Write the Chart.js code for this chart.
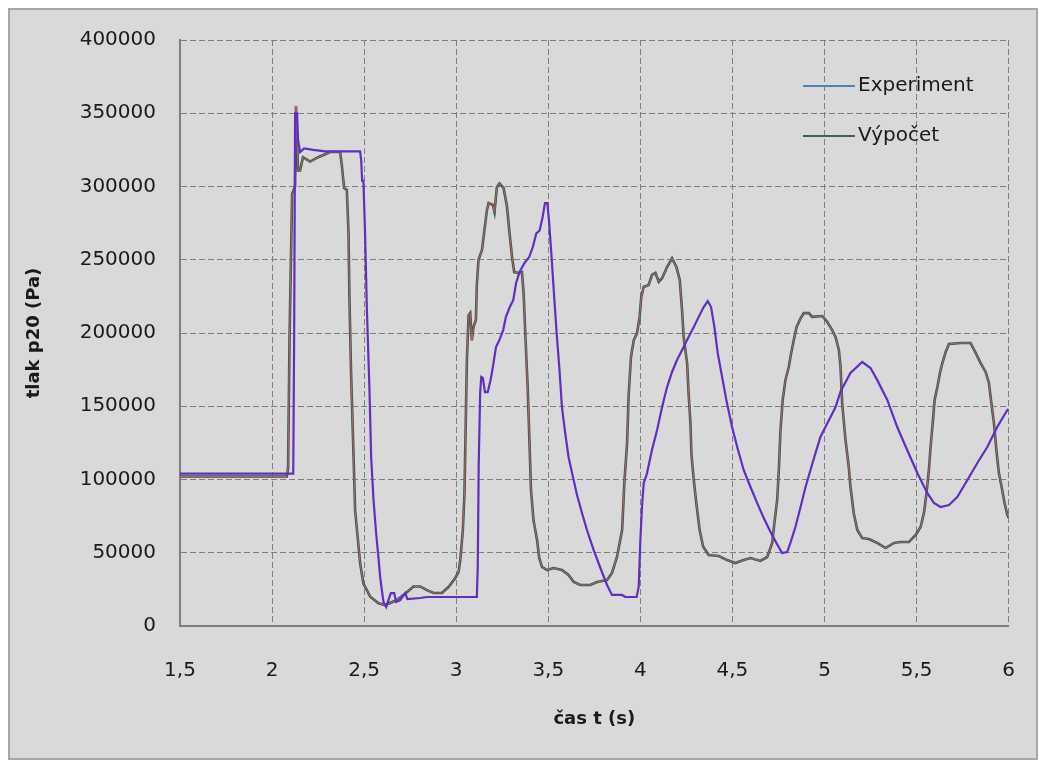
<!DOCTYPE html>
<html>
<head>
<meta charset="utf-8">
<script src="https://cdn.jsdelivr.net/npm/chart.js@4"></script>
<style>
    body { margin: 0; background: #ffffff; }
    #ramecek {
        position: absolute; left: 8px; top: 8px;
        width: 1026px; height: 748px;
        border: 2px solid #a6a6a6;
        background: #d9d9d9;
    }
    #graf { position: absolute; left: 0; top: -6px; }
</style>
</head>
<body>
<div id="ramecek"><canvas id="graf" width="1038" height="754"></canvas></div>
<script>
// cas t (s) a tlak p20 (Pa)
const expT = [1.5, 2.115, 2.12, 2.125, 2.136, 2.141, 2.152, 2.174, 2.223, 2.288, 2.478, 2.484, 2.489,
    2.496, 2.505, 2.515, 2.529, 2.538, 2.551, 2.565, 2.578, 2.587, 2.596, 2.605, 2.62, 2.632, 2.645,
    2.663, 2.674, 2.696, 2.723, 2.735, 2.804, 2.841, 3.112, 3.117, 3.122, 3.13, 3.136, 3.145, 3.156,
    3.171, 3.187, 3.199, 3.216, 3.234, 3.255, 3.27, 3.291, 3.31, 3.325, 3.344, 3.371, 3.397, 3.416,
    3.435, 3.453, 3.469, 3.482, 3.495, 3.505, 3.519, 3.532, 3.547, 3.561, 3.574, 3.592, 3.61, 3.634,
    3.656, 3.683, 3.71, 3.746, 3.783, 3.819, 3.846, 3.9, 3.918, 3.98, 3.991, 4.0, 4.009, 4.018, 4.036,
    4.063, 4.091, 4.118, 4.145, 4.172, 4.199, 4.235, 4.262, 4.29, 4.317, 4.344, 4.366, 4.384, 4.402,
    4.42, 4.444, 4.467, 4.498, 4.526, 4.561, 4.598, 4.634, 4.67, 4.707, 4.739, 4.77, 4.797, 4.815,
    4.842, 4.87, 4.897, 4.924, 4.951, 4.978, 5.005, 5.033, 5.06, 5.087, 5.141, 5.205, 5.25, 5.286,
    5.341, 5.395, 5.449, 5.504, 5.558, 5.594, 5.63, 5.676, 5.721, 5.776, 5.83, 5.884, 5.938, 5.993, 6.0];
const expP = [104000, 104000, 200000, 350000, 350000, 332000, 323500, 326000, 325000, 324000, 324000, 318000, 304000,
    304000, 268000, 215700, 161000, 115400, 86000, 63500, 46400, 33400, 24600, 16400, 13000, 17700, 22500,
    22500, 16400, 17700, 22500, 18400, 19100, 19800, 19800, 40300, 108500, 159000, 170000, 169300, 159700,
    159700, 168000, 176800, 190400, 195000, 202000, 211000, 217700, 222500, 234000, 241600, 247800, 252000, 258700,
    268000, 270000, 279000, 288700, 288700, 275000, 249800, 224600, 197300, 174700, 149500, 131700, 115400, 101700,
    89400, 77100, 65500, 51900, 39600, 28000, 21200, 21200, 19800, 19800, 26800, 58700, 81400, 97400, 104200,
    120100, 133800, 149500, 163100, 173400, 181600, 190400, 197300, 204100, 211000, 217700, 221800, 217700, 204100,
    186400, 170000, 154300, 135800, 122200, 106500, 94900, 84000, 73700, 64200, 56700, 49800, 50500, 56700,
    67600, 81200, 94900, 106500, 118000, 129000, 135800, 142700, 149500, 160000, 172700, 180200, 176100, 168000,
    154300, 135800, 120100, 104400, 90800, 84000, 81200, 82600, 88000, 99700, 111300, 122200, 135800, 147400, 148000];

const vypT = [1.5, 2.08, 2.087, 2.095, 2.109, 2.125, 2.13, 2.141, 2.152, 2.168, 2.207, 2.25, 2.288, 2.315, 2.37,
    2.38, 2.391, 2.406, 2.415, 2.42, 2.429, 2.442, 2.451, 2.469, 2.478, 2.496, 2.533, 2.578, 2.614, 2.678,
    2.732, 2.768, 2.804, 2.841, 2.877, 2.922, 2.958, 2.995, 3.013, 3.022, 3.036, 3.045, 3.049, 3.058, 3.067,
    3.076, 3.085, 3.094, 3.107, 3.112, 3.121, 3.14, 3.152, 3.167, 3.176, 3.199, 3.208, 3.221, 3.235, 3.257,
    3.276, 3.288, 3.303, 3.315, 3.339, 3.357, 3.366, 3.375, 3.388, 3.398, 3.406, 3.42, 3.439, 3.451, 3.466,
    3.493, 3.529, 3.574, 3.61, 3.638, 3.674, 3.728, 3.765, 3.819, 3.846, 3.873, 3.901, 3.913, 3.928, 3.936,
    3.949, 3.964, 3.982, 3.996, 4.005, 4.018, 4.045, 4.063, 4.082, 4.1, 4.118, 4.145, 4.172, 4.196, 4.214,
    4.227, 4.235, 4.254, 4.262, 4.272, 4.277, 4.29, 4.304, 4.322, 4.341, 4.371, 4.426, 4.471, 4.516, 4.561,
    4.598, 4.652, 4.689, 4.716, 4.728, 4.743, 4.752, 4.761, 4.773, 4.788, 4.806, 4.819, 4.833, 4.848, 4.87,
    4.888, 4.915, 4.933, 4.988, 5.015, 5.042, 5.06, 5.078, 5.087, 5.096, 5.114, 5.132, 5.141, 5.159, 5.178,
    5.205, 5.241, 5.286, 5.332, 5.377, 5.413, 5.458, 5.495, 5.522, 5.54, 5.554, 5.567, 5.576, 5.589, 5.598,
    5.613, 5.627, 5.64, 5.658, 5.676, 5.739, 5.793, 5.821, 5.848, 5.875, 5.893, 5.906, 5.92, 5.935, 5.947,
    5.962, 5.978, 5.993, 6.0];
const vypP = [102000, 102000, 108000, 198000, 295000, 300000, 355000, 311000, 311000, 320000, 317000, 320000, 322000, 323500, 323500,
    313000, 299000, 297600, 269000, 224600, 172700, 118000, 79000, 55000, 43000, 29000, 20000, 15500, 14300, 17700,
    23000, 27000, 27000, 24500, 22500, 22500, 26600, 32800, 37000, 45000, 65500, 90800, 120000, 181600, 212000,
    213600, 195000, 204000, 209000, 232800, 250000, 256700, 269000, 284000, 288700, 287400, 282600, 299700, 302000, 299000,
    286000, 270000, 252000, 241600, 241000, 241600, 227000, 200000, 163000, 125000, 93000, 72000, 58700, 46400, 40300,
    38200, 39600, 38200, 34800, 30000, 28000, 28000, 30000, 31400, 36200, 47100, 65500, 97600, 125000, 156300,
    183600, 195000, 200000, 211000, 224600, 231400, 232800, 239600, 241000, 235000, 237400, 245000, 251000, 245000, 236200,
    214500, 197500, 179300, 158800, 138400, 117900, 99700, 83800, 65500, 54100, 48500, 47800, 45000, 43000, 45000,
    46400, 44400, 47100, 56700, 70300, 86000, 106500, 133800, 154300, 168000, 176800, 186400, 195000, 204000, 210000,
    213600, 213600, 211000, 211600, 207500, 202000, 197300, 188400, 177000, 152000, 127000, 108500, 95000, 77000, 65500,
    60000, 59400, 56700, 53200, 56700, 57300, 57300, 62100, 67600, 77100, 90800, 106500, 122200, 140600, 154300,
    163100, 172700, 179500, 187000, 192500, 193200, 193200, 186400, 179500, 173400, 165900, 152200, 138600, 118000, 104400,
    94900, 84000, 75800, 74000];

const nazvySerii = ['Experiment', 'Výpočet'];
const barvyLegendy = ['#4f81bd', '#3e5f5c'];

function body(tt, pp) {
    return tt.map((t, i) => ({ x: t, y: pp[i] }));
}

function carka(v) {
    return String(v).replace('.', ',');
}

// legenda uvnitr plochy grafu, jako v Excelu
const legendaPlugin = {
    id: 'legendaUvnitr',
    afterDraw(chart) {
        const ctx = chart.ctx;
        ctx.save();
        ctx.font = '20px "DejaVu Sans"';
        ctx.textBaseline = 'middle';
        nazvySerii.forEach((nazev, i) => {
            const y = 82 + i * 50;
            ctx.strokeStyle = barvyLegendy[i];
            ctx.lineWidth = 2;
            ctx.beginPath();
            ctx.moveTo(793, y);
            ctx.lineTo(845, y);
            ctx.stroke();
            ctx.fillStyle = '#1a1a1a';
            ctx.fillText(nazev, 848, y);
        });
        ctx.restore();
    }
};

const mriz = {
    color: '#7f7f7f',
    lineWidth: 1,
    drawTicks: false
};

new Chart(document.getElementById('graf'), {
    type: 'line',
    data: {
        datasets: [
            {
                label: nazvySerii[1],
                data: body(vypT, vypP),
                borderColor: '#2c5a56',
                borderWidth: 2.6,
                pointRadius: 0,
                tension: 0,
                order: 3
            },
            {
                label: nazvySerii[1] + ' ',
                data: body(vypT, vypP),
                borderColor: 'rgba(236, 98, 90, 0.8)',
                borderWidth: 1,
                pointRadius: 0,
                tension: 0,
                order: 2
            },
            {
                label: nazvySerii[0],
                data: body(expT, expP),
                borderColor: '#5f2ec4',
                borderWidth: 2.2,
                pointRadius: 0,
                tension: 0,
                order: 1
            }
        ]
    },
    options: {
        responsive: false,
        animation: false,
        layout: { padding: 0 },
        plugins: {
            legend: { display: false },
            tooltip: { enabled: false }
        },
        scales: {
            x: {
                type: 'linear',
                min: 1.5,
                max: 6,
                grid: mriz,
                border: { color: '#808080', width: 2, dash: [6, 3] },
                ticks: {
                    stepSize: 0.5,
                    padding: 33,
                    color: '#1a1a1a',
                    font: { family: 'DejaVu Sans', size: 20 },
                    maxRotation: 0,
                    callback: v => carka(v)
                },
                title: {
                    display: true,
                    text: 'čas t (s)',
                    color: '#1a1a1a',
                    font: { family: 'DejaVu Sans', size: 18, weight: 'bold' },
                    padding: { top: 28, bottom: 28 }
                },
                afterFit(scale) { scale.height = 132; }
            },
            y: {
                min: 0,
                max: 400000,
                grid: mriz,
                border: { color: '#808080', width: 2, dash: [6, 3] },
                ticks: {
                    stepSize: 50000,
                    padding: 24,
                    color: '#1a1a1a',
                    font: { family: 'DejaVu Sans', size: 20 },
                    callback: v => String(v)
                },
                title: {
                    display: true,
                    text: 'tlak p20 (Pa)',
                    color: '#1a1a1a',
                    font: { family: 'DejaVu Sans', size: 18, weight: 'bold' },
                    padding: { top: 14, bottom: 14 }
                },
                afterFit(scale) { scale.width = 170; }
            }
        }
    },
    plugins: [legendaPlugin]
});
</script>
</body>
</html>
